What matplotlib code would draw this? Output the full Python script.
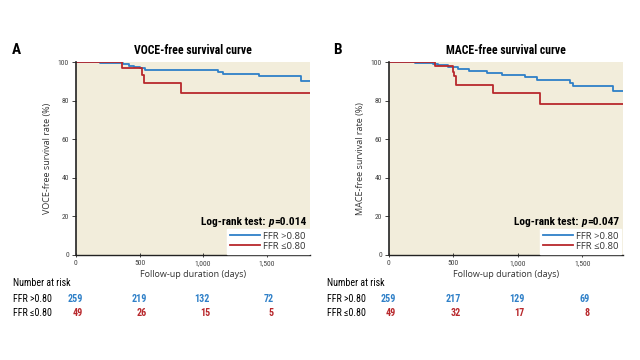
import matplotlib
matplotlib.use("Agg")
import matplotlib.pyplot as plt
import matplotlib.transforms as mtransforms
from matplotlib import font_manager

# condensed look of the journal figure: take the first narrow family found
names = {f.name for f in font_manager.fontManager.ttflist}
prefs = ["Roboto Condensed", "Archivo Narrow", "PT Sans Narrow", "Fira Sans Condensed",
         "Asap Condensed", "Liberation Sans Narrow", "Open Sans Condensed", "DejaVu Sans"]
NARROW = [p for p in prefs if p in names][0]
WIDE = "Open Sans" if "Open Sans" in names else "DejaVu Sans"
plt.rcParams['font.family'] = [NARROW, 'DejaVu Sans']

BEIGE = "#f2eddb"
BLUE = "#2f80c8"
RED = "#b8282c"

# --- panel A: VOCE ---
a_hi_t = [0, 190, 370, 420, 460, 500, 540, 1120, 1160, 1440, 1770]
a_hi_s = [100, 99.4, 98.8, 98.2, 97.5, 96.8, 96.0, 95.0, 93.8, 92.6, 90.0]
a_lo_t = [0, 363, 516, 537, 829]
a_lo_s = [100, 96.9, 93.4, 89.1, 83.8]
a_end = 1840

# --- panel B: MACE ---
b_hi_t = [0, 200, 341, 380, 456, 533, 623, 764, 879, 1059, 1149, 1405, 1431, 1738]
b_hi_s = [100, 99.5, 99.0, 98.5, 97.5, 96.5, 95.5, 94.5, 93.5, 92.0, 90.5, 89.0, 87.5, 85.0]
b_lo_t = [0, 354, 495, 508, 520, 808, 1174]
b_lo_s = [100, 97.8, 95.0, 93.0, 88.3, 84.0, 78.0]
b_end = 1815

risk_days = [0, 500, 1000, 1500]
a_risk_hi = [259, 219, 132, 72]
a_risk_lo = [49, 26, 15, 5]
b_risk_hi = [259, 217, 129, 69]
b_risk_lo = [49, 32, 17, 8]

xticks = [0, 500, 1000, 1500]
xticklabels = ["0", "500", "1,000", "1,500"]
yticks = [0, 20, 40, 60, 80, 100]

fig = plt.figure(figsize=(6.4, 3.6), dpi=100)


def panel(left, letter, title, ylabel, hi_t, hi_s, lo_t, lo_s, end, pval,
          risk_hi, risk_lo, lab_x):
    ax = fig.add_axes([left, 0.2917, 0.3655, 0.536])
    ax.set_facecolor(BEIGE)
    ax.step(hi_t + [end], hi_s + [hi_s[-1]], where='post', color=BLUE, lw=1.3,
            label="FFR >0.80")
    ax.step(lo_t + [end], lo_s + [lo_s[-1]], where='post', color=RED, lw=1.3,
            label="FFR \u22640.80")
    ax.set_xlim(0, end)
    ax.set_ylim(0, 100)
    for s in ['top', 'right']:
        ax.spines[s].set_visible(False)
    ax.spines['left'].set_linewidth(1.2)
    ax.spines['bottom'].set_linewidth(1.0)
    ax.spines['left'].set_color('#222222')
    ax.spines['bottom'].set_color('#222222')
    ax.set_xticks(xticks)
    ax.set_xticklabels(xticklabels)
    ax.set_yticks(yticks)
    ax.tick_params(axis='both', labelsize=5.5, colors='#222222',
                   labelcolor='#444444', length=3, width=0.6, pad=2)
    ax.tick_params(axis='x', direction='inout')
    ax.set_xlabel("Follow-up duration (days)", fontsize=6.5, color='#333333',
                  labelpad=3, family=[WIDE, 'DejaVu Sans'])
    ax.set_ylabel(ylabel, fontsize=6.5, color='#333333', labelpad=4,
                  family=[WIDE, 'DejaVu Sans'])
    ax.set_title(title, fontsize=8.5, fontweight='bold', pad=6)

    leg = ax.legend(loc='lower right', frameon=True, fancybox=False,
                    borderaxespad=0.15, handlelength=3.2, handletextpad=0.3,
                    labelspacing=0.1, borderpad=0.3,
                    prop={'family': [WIDE, 'DejaVu Sans'], 'size': 6.8})
    leg.get_frame().set_facecolor('white')
    leg.get_frame().set_edgecolor('white')
    leg.get_frame().set_alpha(1)
    for t in leg.get_texts():
        t.set_color('#333333')

    # Log-rank text, p in italics
    fig.canvas.draw()
    r = fig.canvas.get_renderer()
    ty = 0.155
    t3 = ax.text(0.985, ty, "=" + pval, transform=ax.transAxes, ha='right',
                 va='baseline', fontsize=8.2, fontweight='bold')
    w3 = t3.get_window_extent(r).width
    t2 = ax.annotate("p", xy=(0.985, ty), xycoords='axes fraction',
                     xytext=(-w3 * 72 / fig.dpi, 0), textcoords='offset points',
                     ha='right', va='baseline', fontsize=8.2, fontweight='bold',
                     style='italic')
    w2 = t2.get_window_extent(r).width
    ax.annotate("Log-rank test: ", xy=(0.985, ty), xycoords='axes fraction',
                xytext=(-(w3 + w2 + 1) * 72 / fig.dpi, 0), textcoords='offset points',
                ha='right', va='baseline', fontsize=8.2, fontweight='bold')

    fig.text(left - 0.1 if letter == 'A' else left - 0.087, 0.86, letter,
             fontsize=11, fontweight='bold', va='center', ha='left')

    # number at risk table
    fig.text(lab_x, 0.214, "Number at risk", fontsize=7.2, va='center')
    fig.text(lab_x, 0.169, "FFR >0.80", fontsize=7.2, va='center')
    fig.text(lab_x, 0.131, "FFR \u22640.80", fontsize=7.2, va='center')
    tr = mtransforms.blended_transform_factory(ax.transData, fig.transFigure)
    for d, h, l in zip(risk_days, risk_hi, risk_lo):
        ax.annotate(str(h), xy=(d, 0.169), xycoords=tr, xytext=(5, 0),
                    textcoords='offset points', ha='right', va='center',
                    fontsize=7.2, fontweight='bold', color=BLUE, annotation_clip=False)
        ax.annotate(str(l), xy=(d, 0.131), xycoords=tr, xytext=(5, 0),
                    textcoords='offset points', ha='right', va='center',
                    fontsize=7.2, fontweight='bold', color=RED, annotation_clip=False)
    return ax


panel(0.11875, 'A', "VOCE-free survival curve", "VOCE-free survival rate (%)",
      a_hi_t, a_hi_s, a_lo_t, a_lo_s, a_end, "0.014", a_risk_hi, a_risk_lo, 0.021)
panel(0.6078, 'B', "MACE-free survival curve", "MACE-free survival rate (%)",
      b_hi_t, b_hi_s, b_lo_t, b_lo_s, b_end, "0.047", b_risk_hi, b_risk_lo, 0.511)

fig.savefig("out.png", dpi=100)
